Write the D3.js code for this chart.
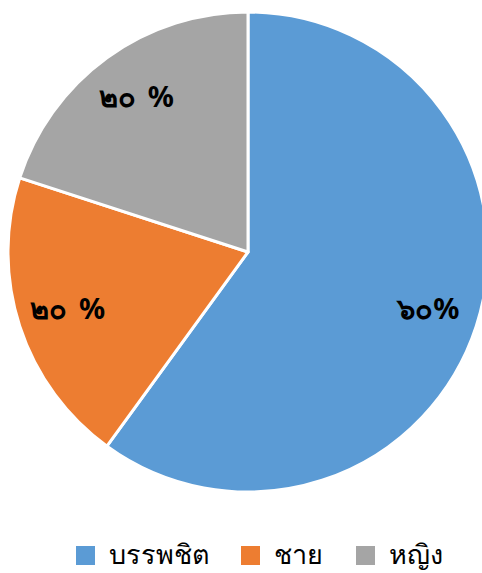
<!DOCTYPE html>
<html><head><meta charset="utf-8">
<script src="https://cdn.jsdelivr.net/npm/d3@7"></script>
<style>body{margin:0;background:#fff;}svg{display:block;}</style>
</head><body>
<script>
const categories = ["บรรพชิต", "ชาย", "หญิง"];
const values = [60, 20, 20];
const labels = ["๖๐%", "๒๐ %", "๒๐ %"];
const colors = ["#5B9BD5", "#ED7D31", "#A5A5A5"];

const W = 482, H = 573;
const svg = d3.select("body").append("svg").attr("width", W).attr("height", H);
const cx = 248, cy = 252, r = 240;
const pie = d3.pie().sort(null).value(d => d)(values);
const arc = d3.arc().innerRadius(0).outerRadius(r);
const g = svg.append("g").attr("transform", `translate(${cx},${cy})`);
g.selectAll("path").data(pie).join("path")
  .attr("d", arc).attr("fill", (d, i) => colors[i])
  .attr("stroke", "#fff").attr("stroke-width", 3).attr("stroke-linejoin", "round");
const labelArc = d3.arc().innerRadius(r * 0.79).outerRadius(r * 0.79);
g.selectAll("text").data(pie).join("text")
  .attr("transform", d => `translate(${labelArc.centroid(d)})`)
  .attr("text-anchor", "middle").attr("dy", "0.3em")
  .attr("font-family", "Tahoma, 'Noto Sans', sans-serif").attr("font-weight", "bold")
  .attr("font-size", 29).attr("fill", "#000").attr("word-spacing", 4)
  .text((d, i) => labels[i]);

const legendX = [76, 241, 356];
const lg = svg.append("g");
categories.forEach((c, i) => {
  lg.append("rect").attr("x", legendX[i]).attr("y", 546).attr("width", 19).attr("height", 19).attr("fill", colors[i]);
  lg.append("text").attr("x", legendX[i] + 33).attr("y", 564)
    .attr("font-family", "Tahoma, 'Noto Sans', sans-serif").attr("font-weight", 300)
    .attr("font-size", 27).attr("fill", "#000").text(c);
});
</script>
</body></html>
